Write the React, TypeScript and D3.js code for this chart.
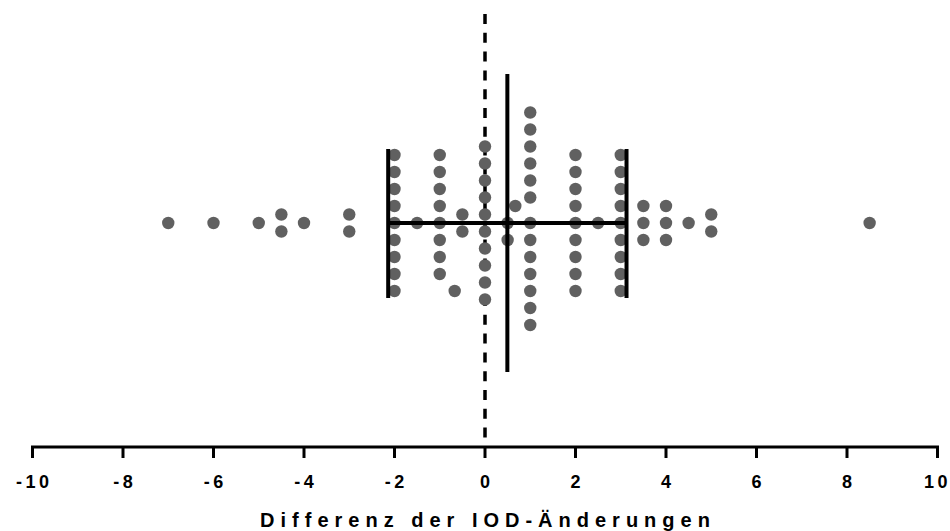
import React from "react";
import * as d3 from "d3";

// Individual observations (difference values) and their stacking row in the column scatter
const dotValues = [
  -7, -6, -5, -4.5, -4.5, -4, -3, -3,
  -2, -2, -2, -2, -2, -2, -2, -2, -2,
  -1.5,
  -1, -1, -1, -1, -1, -1, -1, -1,
  -0.67, -0.5, -0.5,
  0, 0, 0, 0, 0, 0, 0, 0, 0, 0,
  0.5, 0.5, 0.67,
  1, 1, 1, 1, 1, 1, 1, 1, 1, 1, 1, 1, 1,
  2, 2, 2, 2, 2, 2, 2, 2, 2,
  2.5,
  3, 3, 3, 3, 3, 3, 3, 3, 3,
  3.5, 3.5, 3.5, 4, 4, 4, 4.5, 5, 5, 8.5,
];
const dotRows = [
  0, 0, 0, 0.5, -0.5, 0, 0.5, -0.5,
  4, 3, 2, 1, 0, -1, -2, -3, -4,
  0,
  4, 3, 2, 1, 0, -1, -2, -3,
  -4, 0.5, -0.5,
  4.5, 3.5, 2.5, 1.5, 0.5, -0.5, -1.5, -2.5, -3.5, -4.5,
  0, -1, 1,
  6.5, 5.5, 4.5, 3.5, 2.5, 1.5, 0, -1, -2, -3, -4, -5, -6,
  4, 3, 2, 1, 0, -1, -2, -3, -4,
  0,
  4, 3, 2, 1, 0, -1, -2, -3, -4,
  1, 0, -1, 1, 0, -1, 0, 0.5, -0.5, 0,
];
const xTicks = [-10, -8, -6, -4, -2, 0, 2, 4, 6, 8, 10];
const xDomain = [-10, 10];
const xTitle = "Differenz der IOD-Änderungen";

const W = 950;
const H = 531;
const centerY = 223;
const rowStep = 17;
const font = "'Liberation Sans', Arial, sans-serif";

export default function App() {
  const x = d3.scaleLinear().domain(xDomain).range([32.5, 937.5]);
  const y = d3.scaleLinear().domain([-1, 1]).range([centerY + rowStep, centerY - rowStep]);
  const mean = d3.mean(dotValues) as number;
  const sd = d3.deviation(dotValues) as number;
  const axisY = 447;
  const tickSpacing = 3.5;
  const titleSpacing = 6;

  return (
    <svg width={W} height={H} style={{ position: "absolute", left: 0, top: 0, background: "#fff" }}>
      {/* zero reference line */}
      <line x1={x(0)} x2={x(0)} y1={14} y2={axisY} stroke="#000" strokeWidth={3.5} strokeDasharray="10,8.8" />
      {/* dots */}
      {dotValues.map((v, i) => (
        <circle key={i} cx={x(v)} cy={y(dotRows[i])} r={6.2} fill="#606060" />
      ))}
      {/* mean and SD */}
      <line x1={x(mean - sd)} x2={x(mean + sd)} y1={centerY} y2={centerY} stroke="#000" strokeWidth={4} />
      <line x1={x(mean)} x2={x(mean)} y1={centerY - 149} y2={centerY + 149} stroke="#000" strokeWidth={4} />
      <line x1={x(mean - sd)} x2={x(mean - sd)} y1={centerY - 74} y2={centerY + 75} stroke="#000" strokeWidth={4} />
      <line x1={x(mean + sd)} x2={x(mean + sd)} y1={centerY - 74} y2={centerY + 75} stroke="#000" strokeWidth={4} />
      {/* axis */}
      <line x1={x(-10) - 1.5} x2={x(10) + 1.5} y1={axisY} y2={axisY} stroke="#000" strokeWidth={3} />
      {xTicks.map((t) => (
        <g key={t}>
          <line x1={x(t)} x2={x(t)} y1={axisY} y2={axisY + 11} stroke="#000" strokeWidth={3} />
          <text
            x={x(t) + (t === 10 ? 0 : tickSpacing / 2)}
            y={488}
            textAnchor="middle"
            fontFamily={font}
            fontWeight="bold"
            fontSize={18}
            letterSpacing={tickSpacing}
            fill="#000"
          >
            {t}
          </text>
        </g>
      ))}
      <text
        x={x(0) + titleSpacing / 2}
        y={527}
        textAnchor="middle"
        fontFamily={font}
        fontWeight="bold"
        fontSize={20}
        letterSpacing={titleSpacing}
        fill="#000"
      >
        {xTitle}
      </text>
    </svg>
  );
}
